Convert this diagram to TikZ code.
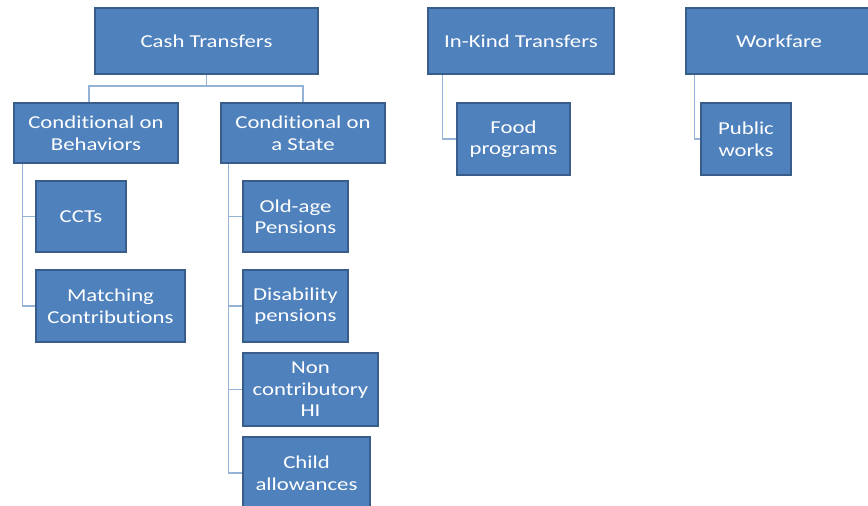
\documentclass[tikz,border=0pt]{standalone}
\usepackage{fontspec}
\setmainfont{Carlito}[FakeStretch=1.25,Ligatures=NoCommon]
\definecolor{boxblue}{HTML}{4F81BD}
\definecolor{boxedge}{HTML}{385D8A}
\definecolor{linkblue}{HTML}{95B3D7}
\tikzset{
  box/.style={draw=boxedge,line width=1.8pt,fill=boxblue,text=white,align=center,
    inner sep=0pt,font=\fontsize{18.2}{21.5}\selectfont},
  link/.style={draw=linkblue,line width=1.1pt}
}
\begin{document}
\begin{tikzpicture}[x=1pt,y=-1pt]
\useasboundingbox (0,0) rectangle (868,506);
\node[box,minimum width=223,minimum height=66] (cash) at (206.5,41) {Cash Transfers};
\node[box,minimum width=164,minimum height=60] (behav) at (96,133) {Conditional on\\Behaviors};
\node[box,minimum width=164,minimum height=60] (state) at (303,133) {Conditional on\\a State};
\node[box,minimum width=90,minimum height=71] (ccts) at (81,216.5) {CCTs};
\node[box,minimum width=149,minimum height=72] (match) at (110.5,306) {Matching\\Contributions};
\node[box,minimum width=105,minimum height=71] (oldage) at (295.5,216.5) {Old-age\\Pensions};
\node[box,minimum width=105,minimum height=72] (disab) at (295.5,306) {Disability\\pensions};
\node[box,minimum width=135,minimum height=73] (noncon) at (310.5,389.5) {Non\\contributory\\HI};
\node[box,minimum width=127,minimum height=72] (child) at (306.5,473) {Child\\allowances};
\node[box,minimum width=186,minimum height=66] (inkind) at (521,41) {In-Kind Transfers};
\node[box,minimum width=113,minimum height=72] (food) at (513.5,139) {Food\\programs};
\node[box,minimum width=186,minimum height=66] (work) at (779,41) {Workfare};
\node[box,minimum width=90,minimum height=72] (public) at (746,139) {Public\\works};
% tree links
\coordinate (split) at (206.5,86);
\draw[link] (cash.south) -- (split);
\draw[link] (split) -| ([xshift=-7]behav.north);
\draw[link] (split) -| (state.north);
\draw[link] ([xshift=9]behav.south west) |- (ccts.west);
\draw[link] ([xshift=9]behav.south west) |- (match.west);
\draw[link] ([xshift=8]state.south west) |- (oldage.west);
\draw[link] ([xshift=8]state.south west) |- (disab.west);
\draw[link] ([xshift=8]state.south west) |- (noncon.west);
\draw[link] ([xshift=8]state.south west) |- (child.west);
\draw[link] ([xshift=15]inkind.south west) |- (food.west);
\draw[link] ([xshift=9]work.south west) |- (public.west);
\end{tikzpicture}
\end{document}
